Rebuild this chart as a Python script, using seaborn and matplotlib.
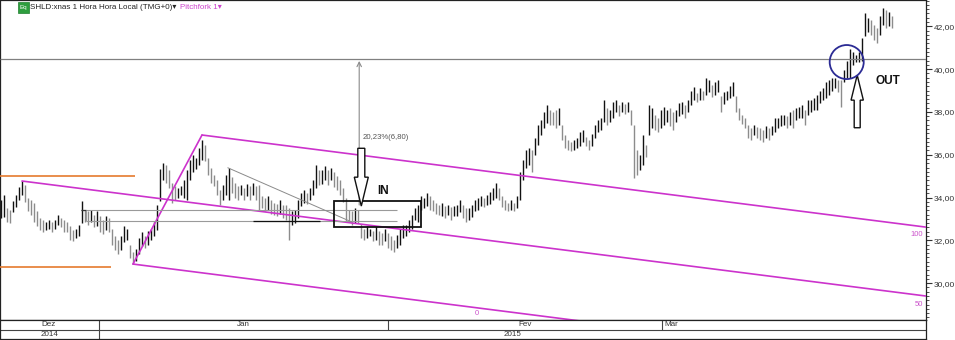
import numpy as np
import matplotlib
matplotlib.use("Agg")
import matplotlib.pyplot as plt
import seaborn as sns
from matplotlib.patches import Rectangle, FancyArrow
from matplotlib.ticker import MultipleLocator, FuncFormatter

# ---------------- data (hourly-ish OHLC bars) ----------------
highs = [33.9, 34.1, 33.5, 33.4, 33.85, 34.1, 34.5, 34.75, 34.6, 34.0,
         33.9, 33.75, 33.35, 33.05, 32.95, 32.85, 32.95, 32.85, 32.95, 33.2,
         33.05, 32.95, 32.85, 32.65, 32.5, 32.55, 32.7, 33.85, 33.4, 33.35,
         33.4, 33.2, 33.35, 33.15, 32.95, 33.15, 33.05, 32.55, 32.2, 32.0,
         32.2, 32.65, 32.55, 31.8, 31.45, 31.6, 32.1, 32.4, 32.2, 32.45,
         32.55, 32.85, 33.65, 35.35, 35.6, 35.5, 35.3, 34.7, 34.55, 34.45,
         34.55, 34.8, 35.3, 35.75, 36.0, 35.85, 36.3, 36.7, 36.45, 35.85,
         35.4, 35.05, 34.8, 34.35, 34.6, 35.05, 35.4, 34.95, 34.7, 34.55,
         34.6, 34.45, 34.65, 34.55, 34.7, 34.55, 34.6, 34.05, 34.0, 34.05,
         33.9, 33.75, 33.7, 33.9, 33.65, 33.65, 33.5, 33.35, 33.4, 33.9,
         34.2, 34.35, 34.2, 34.45, 34.8, 35.5, 35.3, 35.3, 35.45, 35.3,
         35.4, 35.2, 35.0, 34.8, 34.45, 34.0, 33.4, 33.35, 33.5, 33.4,
         32.75, 32.55, 32.65, 32.55, 32.45, 32.65, 32.45, 32.35, 32.55, 32.35,
         32.2, 32.0, 32.25, 32.55, 32.7, 32.7, 32.95, 33.2, 33.5, 33.65,
         34.05, 34.0, 34.2, 34.05, 33.9, 33.75, 33.65, 33.75, 33.6, 33.65,
         33.55, 33.6, 33.65, 33.9, 33.65, 33.5, 33.5, 33.65, 33.9, 34.0,
         34.05, 34.0, 34.1, 34.25, 34.45, 34.7, 34.45, 34.05, 33.9, 33.75,
         33.9, 33.75, 34.05, 35.2, 35.75, 36.2, 36.3, 36.2, 36.8, 37.4,
         37.6, 38.0, 38.3, 38.1, 38.0, 38.1, 38.2, 37.4, 36.9, 36.7,
         36.6, 36.7, 36.8, 37.05, 37.15, 36.85, 36.7, 36.95, 37.4, 37.6,
         37.7, 38.55, 38.2, 38.1, 38.45, 38.55, 38.3, 38.45, 38.35, 38.45,
         38.1, 37.4, 36.2, 36.0, 36.9, 36.45, 38.3, 38.2, 37.85, 37.7,
         38.1, 38.25, 38.1, 38.2, 38.0, 38.1, 38.4, 38.45, 38.3, 38.55,
         39.0, 39.15, 38.9, 39.1, 39.0, 39.6, 39.5, 39.25, 39.4, 39.5,
         38.75, 38.95, 39.0, 39.2, 39.4, 38.75, 38.2, 37.85, 37.7, 37.4,
         37.25, 37.4, 37.3, 37.25, 37.15, 37.35, 37.25, 37.35, 37.7, 37.7,
         37.85, 37.85, 37.8, 38.0, 38.1, 38.2, 38.25, 38.3, 38.1, 38.55,
         38.55, 38.65, 38.8, 39.0, 39.1, 39.4, 39.5, 39.6, 39.6, 39.5,
         39.5, 39.95, 40.4, 40.95, 40.8, 40.65, 40.8, 41.45, 42.6, 42.4,
         42.3, 42.05, 41.9, 42.5, 42.85, 42.75, 42.65, 42.5]
lows = [33.05, 33.1, 32.85, 32.8, 33.3, 33.55, 33.9, 34.1, 33.8, 33.35,
        33.2, 32.85, 32.65, 32.5, 32.4, 32.5, 32.55, 32.4, 32.55, 32.7,
        32.6, 32.4, 32.4, 32.0, 31.95, 32.1, 32.2, 32.8, 32.85, 32.7,
        32.85, 32.6, 32.65, 32.4, 32.3, 32.5, 32.4, 31.8, 31.55, 31.35,
        31.55, 31.9, 32.0, 31.15, 30.9, 31.05, 31.35, 31.75, 31.65, 31.8,
        32.0, 32.2, 32.5, 33.85, 34.8, 34.7, 34.45, 33.75, 33.9, 34.0,
        34.1, 34.0, 33.9, 34.8, 35.2, 35.35, 35.5, 35.75, 35.7, 35.05,
        34.7, 34.55, 34.1, 33.65, 33.9, 34.1, 33.9, 34.2, 34.0, 33.9,
        34.1, 33.9, 34.05, 33.9, 34.1, 33.9, 33.4, 33.5, 33.35, 33.4,
        33.25, 33.2, 33.15, 33.25, 33.05, 32.95, 32.0, 32.7, 32.8, 33.05,
        33.6, 33.75, 33.7, 33.9, 34.1, 34.45, 34.6, 34.65, 34.8, 34.6,
        34.8, 34.5, 34.35, 34.1, 33.8, 32.85, 32.85, 32.7, 32.8, 32.8,
        32.1, 32.0, 32.1, 32.2, 31.95, 32.0, 31.8, 31.8, 31.95, 31.65,
        31.55, 31.45, 31.65, 31.8, 32.1, 32.2, 32.4, 32.55, 32.95, 32.85,
        33.4, 33.5, 33.6, 33.4, 33.35, 33.25, 33.2, 33.15, 33.05, 33.2,
        32.95, 33.15, 33.15, 33.3, 33.05, 32.85, 32.95, 33.1, 33.35, 33.4,
        33.6, 33.55, 33.65, 33.7, 33.9, 34.0, 33.9, 33.55, 33.4, 33.35,
        33.4, 33.35, 33.5, 33.9, 34.8, 35.4, 35.5, 35.2, 36.0, 36.45,
        36.9, 37.25, 37.5, 37.4, 37.4, 37.25, 37.4, 36.7, 36.3, 36.2,
        36.15, 36.2, 36.3, 36.4, 36.6, 36.4, 36.2, 36.4, 36.8, 37.05,
        37.15, 37.55, 37.4, 37.55, 37.7, 38.0, 37.8, 38.0, 37.9, 38.0,
        37.4, 34.9, 35.05, 35.3, 35.5, 35.9, 36.9, 37.25, 37.15, 37.05,
        37.25, 37.4, 37.55, 37.35, 37.15, 37.55, 37.8, 37.9, 37.7, 38.0,
        38.3, 38.55, 38.45, 38.55, 38.55, 38.8, 38.95, 38.7, 38.8, 38.95,
        38.0, 38.35, 38.55, 38.65, 38.75, 38.0, 37.6, 37.45, 37.25, 36.8,
        36.7, 36.9, 36.8, 36.7, 36.6, 36.8, 36.7, 36.9, 37.05, 37.25,
        37.35, 37.4, 37.25, 37.4, 37.25, 37.6, 37.7, 37.7, 37.4, 37.85,
        38.0, 38.1, 38.1, 38.4, 38.55, 38.65, 38.8, 39.0, 39.1, 38.95,
        38.25, 39.4, 39.6, 39.6, 40.2, 40.35, 40.35, 40.4, 41.55, 41.75,
        41.6, 41.35, 41.2, 41.6, 42.05, 41.9, 42.0, 41.9]

# pitchfork anchors (bar index, price)
pf_bars = [7, 44, 67]
pf_prices = [34.77, 30.89, 36.92]
pf_labels = ["0", "50", "100"]

# support/resistance and study objects
orange_levels = [35.0, 30.77]
orange_ends = [44.7, 36.7]
breakout_level = 40.45
range_levels = [33.42, 32.88]
measure_from, measure_to = 33.65, 40.38
measure_text = "20,23%(6,80)"
trend_pts = ([75.6, 117.0], [35.39, 32.85])
box_bars, box_prices = (110.9, 139.9), (32.62, 33.84)

price_ticks = [30, 32, 34, 36, 38, 40, 42]
month_labels = ["Dez", "Jan", "Fev", "Mar"]
month_bounds = [-0.34, 32.5, 129.0, 220.3, 308.23]
month_label_pos = [15.9, 80.7, 174.7, 223.3]
year_labels = ["2014", "2015"]
year_bounds = [-0.34, 32.5, 308.23]

# ---------------- style ----------------
sns.set_theme(style="white")
plt.rcParams['font.family'] = ['Liberation Sans', 'DejaVu Sans']

MAG = '#CC33CC'
FW, FH = 955, 340
fig = plt.figure(figsize=(FW / 100, FH / 100), dpi=100)
fig.patch.set_facecolor('white')

XL = (-1 / 3, (925.7 - 1) / 3)
YL = (28.276, 43.229)
ax = fig.add_axes([0, 1 - 320 / FH, 925.7 / FW, 320 / FH])
ax.set_xlim(*XL)
ax.set_ylim(*YL)
ax.set_facecolor('white')

# OHLC-style high/low bars
idx = np.arange(len(highs))
h = np.array(highs)
l = np.array(lows)
mid = (h + l) / 2
up = np.r_[True, np.diff(mid) >= 0]
cols = np.where(up, '#111111', '#8c8c8c')
ax.vlines(idx, l, h, colors=cols, lw=1.0, zorder=2)

# pitchfork
x0, x1, x2 = pf_bars
y0, y1, y2 = pf_prices
mx, my = (x1 + x2) / 2, (y1 + y2) / 2
slope = (my - y0) / (mx - x0)
xr = XL[1] + 1
for xs, ys in [([x0, xr], [y0, y0 + slope * (xr - x0)]),
               ([x2, xr], [y2, y2 + slope * (xr - x2)]),
               ([x1, xr], [y1, y1 + slope * (xr - x1)]),
               ([x1, x2], [y1, y2])]:
    sns.lineplot(x=xs, y=ys, ax=ax, color=MAG, lw=1.2, zorder=3,
                 estimator=None, sort=False)
ax.text(158.7, 28.56, pf_labels[0], color='#CC55CC', fontsize=5.5, ha='center', va='center')
ax.text(307.3, 28.98, pf_labels[1], color='#CC55CC', fontsize=5.5, ha='right', va='center')
ax.text(307.3, 32.25, pf_labels[2], color='#CC55CC', fontsize=5.5, ha='right', va='center')

# orange horizontal levels
for lev, end in zip(orange_levels, orange_ends):
    ax.hlines(lev, XL[0], end, color='#E57A2E', lw=1.2, zorder=3)

# breakout line
ax.hlines(breakout_level, XL[0], XL[1], color='#808080', lw=0.9, zorder=3)

# consolidation range lines
ax.hlines(range_levels[0], 26.7, 132.0, color='#9a9a9a', lw=0.8, zorder=3)
ax.hlines(range_levels[1], 28.3, 132.0, color='#9a9a9a', lw=0.8, zorder=3)
ax.hlines(range_levels[1], 84.0, 106.3, color='#111111', lw=0.9, zorder=3)
ax.hlines(range_levels[0], 26.7, 28.3, color='#333333', lw=0.9, zorder=3)
ax.vlines(28.3, range_levels[1], range_levels[0], color='#9a9a9a', lw=0.8, zorder=3)

# thin trendline
ax.plot(trend_pts[0], trend_pts[1], color='#8a8a8a', lw=0.7, zorder=3)

# measurement arrow
ax.annotate('', xy=(119.4, measure_to), xytext=(119.4, measure_from),
            arrowprops=dict(arrowstyle='->', color='#8a8a8a', lw=0.8,
                            mutation_scale=8, shrinkA=0, shrinkB=0), zorder=3)
ax.text(120.6, 36.82, measure_text, color='#555555', fontsize=5.6, ha='left', va='center')

# entry box
ax.add_patch(Rectangle((box_bars[0], box_prices[0]), box_bars[1] - box_bars[0],
                       box_prices[1] - box_prices[0], fill=False, ec='#111111',
                       lw=1.3, zorder=4))

# hollow arrows
ax.add_patch(FancyArrow(120.1, 36.30, 0, 33.60 - 36.30, width=7 / 3, head_width=14 / 3,
                        head_length=1.35, length_includes_head=True, fc='white',
                        ec='#111111', lw=1.0, zorder=5))
ax.add_patch(FancyArrow(285.4, 37.26, 0, 39.72 - 37.26, width=6 / 3, head_width=12.3 / 3,
                        head_length=1.17, length_includes_head=True, fc='white',
                        ec='#111111', lw=1.0, zorder=5))

ax.text(127.5, 34.31, "IN", fontsize=8.5, fontweight='bold', color='#111111',
        ha='center', va='center', zorder=5)
ax.text(295.7, 39.44, "OUT", fontsize=8.5, fontweight='bold', color='#111111',
        ha='center', va='center', zorder=5)

# blue circle
sns.scatterplot(x=[281.9], y=[40.33], ax=ax, s=24.5 ** 2, marker='o',
                facecolors='none', edgecolor='#2B2B94', linewidth=1.3, zorder=6)

# axes styling
ax.set_xticks([])
ax.yaxis.tick_right()
ax.set_yticks(price_ticks)
ax.yaxis.set_major_formatter(FuncFormatter(lambda v, p: f"{v:.2f}".replace('.', ',')))
ax.yaxis.set_minor_locator(MultipleLocator(0.2))
ax.tick_params(axis='y', which='major', direction='out', length=4, width=0.8,
               colors='#333333', labelsize=6, pad=2, right=True, left=False,
               labelright=True, labelleft=False)
ax.tick_params(axis='y', which='minor', direction='out', length=2, width=0.6,
               color='#333333', right=True, left=False)
for s in ax.spines.values():
    s.set_color('#222222')
    s.set_linewidth(0.9)
ax.grid(False)

# header
fig.patches.append(Rectangle((18 / FW, 1 - 13 / FH), 11 / FW, 11 / FH,
                             transform=fig.transFigure, fc='#2E9E3E', ec='#1E7E2E',
                             lw=0.5, figure=fig))
fig.text(23.5 / FW, 1 - 7.5 / FH, "Eq", color='white', fontsize=4.5,
         ha='center', va='center')
fig.text(30 / FW, 1 - 7.5 / FH, "SHLD:xnas 1 Hora Hora Local (TMG+0)\u25be",
         color='#222222', fontsize=5.8, ha='left', va='center',
         family=['Liberation Sans', 'DejaVu Sans'])
fig.text(180 / FW, 1 - 7.5 / FH, "Pitchfork 1\u25be", color='#CC44CC',
         fontsize=5.8, ha='left', va='center', family=['Liberation Sans', 'DejaVu Sans'])

# date bar
ax2 = fig.add_axes([0, 1 - 339 / FH, 925.7 / FW, 19 / FH])
ax2.set_xlim(*XL)
ax2.set_ylim(0, 2)
ax2.set_xticks([])
ax2.set_yticks([])
ax2.hlines(1, XL[0], XL[1], color='#444444', lw=0.8)
for b in month_bounds[1:-1]:
    ax2.vlines(b, 1, 2, color='#444444', lw=0.8)
for b in year_bounds[1:-1]:
    ax2.vlines(b, 0, 1, color='#444444', lw=0.8)
narrow = ['Liberation Sans Narrow', 'Liberation Sans', 'DejaVu Sans']
for lab, pos in zip(month_labels, month_label_pos):
    ax2.text(pos, 1.5, lab, fontsize=5.8, color='#333333', ha='center', va='center',
             family=narrow)
for k, lab in enumerate(year_labels):
    c = (year_bounds[k] + year_bounds[k + 1]) / 2
    ax2.text(c, 0.5, lab, fontsize=5.8, color='#333333', ha='center', va='center',
             family=narrow)
for s in ax2.spines.values():
    s.set_color('#222222')
    s.set_linewidth(0.9)

fig.savefig("out.png", dpi=100, facecolor='white')
